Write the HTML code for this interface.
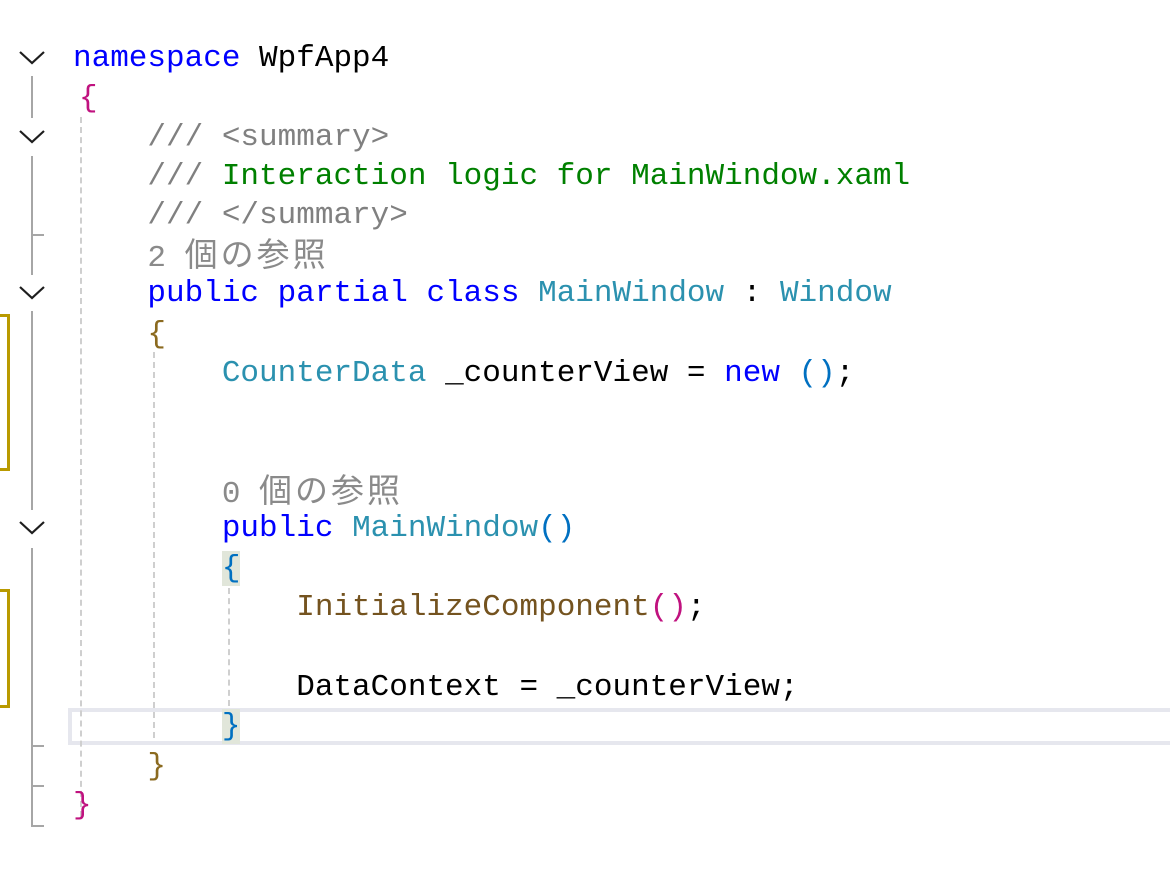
<!DOCTYPE html>
<html><head><meta charset="utf-8"><style>
html,body{margin:0;padding:0;background:#fff;width:1170px;height:886px;overflow:hidden;position:relative}
.l{position:absolute;left:73px;height:39px;line-height:39px;font-family:"Liberation Mono","Noto Sans CJK JP",monospace;font-size:31px;white-space:pre;color:#000}
.k{color:#0000ff}.t{color:#2b91af}.c{color:#808080}.g{color:#008000}.m{color:#74531f}
.b1{color:#c0127f}.b2{color:#8b6a1f}.b3{color:#0070c1}
.cl{color:#8a8a8a}
.cj{font-family:"Noto Sans CJK JP",sans-serif;font-size:33px;letter-spacing:3px}
.hl{background:#e1e6da}
.v{position:absolute;background:#a6a6a6;width:2px;left:31px}
.tk{position:absolute;background:#a6a6a6;height:2px;left:31px;width:13px}
.ch{position:absolute;left:18px;width:28px;height:16px}
.d{position:absolute;width:0;border-left:2px dashed #cfcfcf}
.y{position:absolute;left:0;width:7px;border:3px solid #b99a00;border-left:none;background:#fff}
</style></head><body>
<div style="position:absolute;left:68px;top:708px;width:1110px;height:29px;border:4px solid #e6e7ee;border-right:none"></div>
<div class="d" style="left:80px;top:117px;height:700px"></div>
<div class="d" style="left:153px;top:352px;height:386px"></div>
<div class="d" style="left:228px;top:588px;height:118px"></div>
<div class="y" style="top:314px;height:151px"></div>
<div class="y" style="top:589px;height:113px"></div>
<div class="v" style="top:76px;height:42px"></div>
<div class="v" style="top:156px;height:119px"></div>
<div class="tk" style="top:234px"></div>
<div class="v" style="top:311px;height:199px"></div>
<div class="v" style="top:548px;height:278px"></div>
<div class="tk" style="top:745px"></div>
<div class="tk" style="top:785px"></div>
<div class="tk" style="top:825px"></div>
<svg class="ch" style="top:50px" viewBox="0 0 28 16"><polyline points="2,2 14,13 26,2" fill="none" stroke="#1e1e1e" stroke-width="2.2"/></svg>
<svg class="ch" style="top:129px" viewBox="0 0 28 16"><polyline points="2,2 14,13 26,2" fill="none" stroke="#1e1e1e" stroke-width="2.2"/></svg>
<svg class="ch" style="top:285px" viewBox="0 0 28 16"><polyline points="2,2 14,13 26,2" fill="none" stroke="#1e1e1e" stroke-width="2.2"/></svg>
<svg class="ch" style="top:520px" viewBox="0 0 28 16"><polyline points="2,2 14,13 26,2" fill="none" stroke="#1e1e1e" stroke-width="2.2"/></svg>

<div class="l" style="top:39px"><span class="k">namespace</span> WpfApp4</div>
<div class="l" style="top:79px;left:79px"><span class="b1">{</span></div>
<div class="l" style="top:118px"><span class="c">    /// &lt;summary&gt;</span></div>
<div class="l" style="top:157px"><span class="c">    /// </span><span class="g">Interaction logic for MainWindow.xaml</span></div>
<div class="l" style="top:196px"><span class="c">    /// &lt;/summary&gt;</span></div>
<div class="l" style="top:233px">    <span class="cl">2 <span class="cj">個の参照</span></span></div>
<div class="l" style="top:274px">    <span class="k">public partial class</span> <span class="t">MainWindow</span> : <span class="t">Window</span></div>
<div class="l" style="top:315px">    <span class="b2">{</span></div>
<div class="l" style="top:354px">        <span class="t">CounterData</span> _counterView = <span class="k">new</span> <span class="b3">()</span>;</div>
<div class="l" style="top:469px">        <span class="cl">0 <span class="cj">個の参照</span></span></div>
<div class="l" style="top:509px">        <span class="k">public</span> <span class="t">MainWindow</span><span class="b3">()</span></div>
<div class="l" style="top:549px">        <span class="b3 hl">{</span></div>
<div class="l" style="top:588px">            <span class="m">InitializeComponent</span><span class="b1">()</span>;</div>
<div class="l" style="top:668px">            DataContext = _counterView;</div>
<div class="l" style="top:707px">        <span class="b3 hl">}</span></div>
<div class="l" style="top:747px">    <span class="b2">}</span></div>
<div class="l" style="top:786px"><span class="b1">}</span></div>
</body></html>
